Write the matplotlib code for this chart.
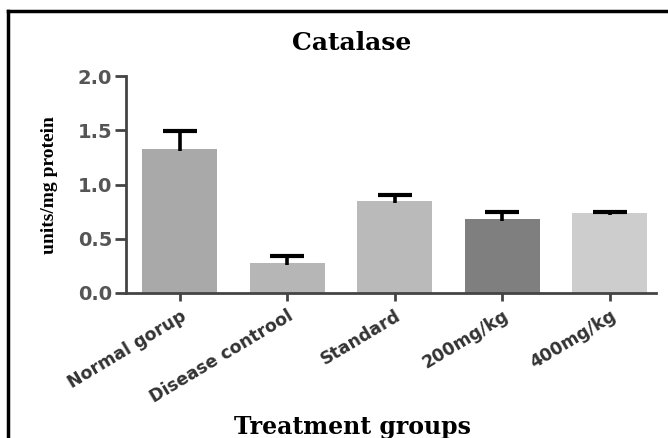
import matplotlib
matplotlib.use('Agg')
import matplotlib.pyplot as plt
from matplotlib.lines import Line2D

# Catalase activity per treatment group
groups = ['Normal gorup', 'Disease controol', 'Standard', '200mg/kg', '400mg/kg']
catalase = [1.33, 0.28, 0.85, 0.68, 0.74]
sem = [0.16, 0.06, 0.05, 0.065, 0.01]
bar_colors = ['#a9a9a9', '#b6b6b6', '#bababa', '#7f7f7f', '#cdcdcd']
y_ticks = [0.0, 0.5, 1.0, 1.5, 2.0]

fig = plt.figure(figsize=(6.68, 4.38), dpi=100)
ax = fig.add_axes([126 / 668, 1 - 293 / 438, 530 / 668, 217 / 438])

x = list(range(len(groups)))
tops = [v + e for v, e in zip(catalase, sem)]
ax.bar(x, catalase, width=0.7, color=bar_colors, zorder=2)
# upper error bars only, like the prism-style original
ax.vlines(x, [v - 0.02 for v in catalase], tops, color='black', lw=2.6, zorder=3)
ax.hlines(tops, [i - 0.16 for i in x], [i + 0.16 for i in x], color='black', lw=3, zorder=3)

ax.set_xlim(-0.5, 4.43)
ax.set_ylim(0, 2.0)
ax.set_yticks(y_ticks)
ax.set_yticklabels([f'{v:.1f}' for v in y_ticks], fontsize=14, fontweight='bold',
                   color='#555555', family='DejaVu Sans')
ax.set_xticks(x)
ax.set_xticklabels(groups, rotation=31, ha='right', va='top', rotation_mode='anchor',
                   fontsize=12.5, fontweight='bold', color='#333333', family='DejaVu Sans')

for side in ['top', 'right']:
    ax.spines[side].set_visible(False)
for side in ['left', 'bottom']:
    ax.spines[side].set_linewidth(2)
    ax.spines[side].set_color('#444444')
ax.tick_params(axis='both', direction='out', width=2, color='#444444')
ax.tick_params(axis='y', length=8, pad=2)
ax.tick_params(axis='x', length=6, pad=4)

fig.text(352 / 668, 1 - 43 / 438, 'Catalase', ha='center', va='center',
         fontsize=18, fontweight='bold', family='DejaVu Serif')
fig.text(352 / 668, 1 - 427 / 438, 'Treatment groups', ha='center', va='center',
         fontsize=17, fontweight='bold', family='DejaVu Serif')
fig.text(50 / 668, 1 - 185 / 438, 'units/mg protein', ha='center', va='center',
         rotation=90, fontsize=14, fontweight='bold', family='Liberation Serif')

# black frame around the picture (top and left edges visible)
fig.add_artist(Line2D([8 / 668, 1], [1 - 11 / 438] * 2, color='black', lw=2.5,
                      transform=fig.transFigure))
fig.add_artist(Line2D([8 / 668] * 2, [0, 1 - 11 / 438], color='black', lw=2.5,
                      transform=fig.transFigure))

fig.savefig('out.png', dpi=100)
